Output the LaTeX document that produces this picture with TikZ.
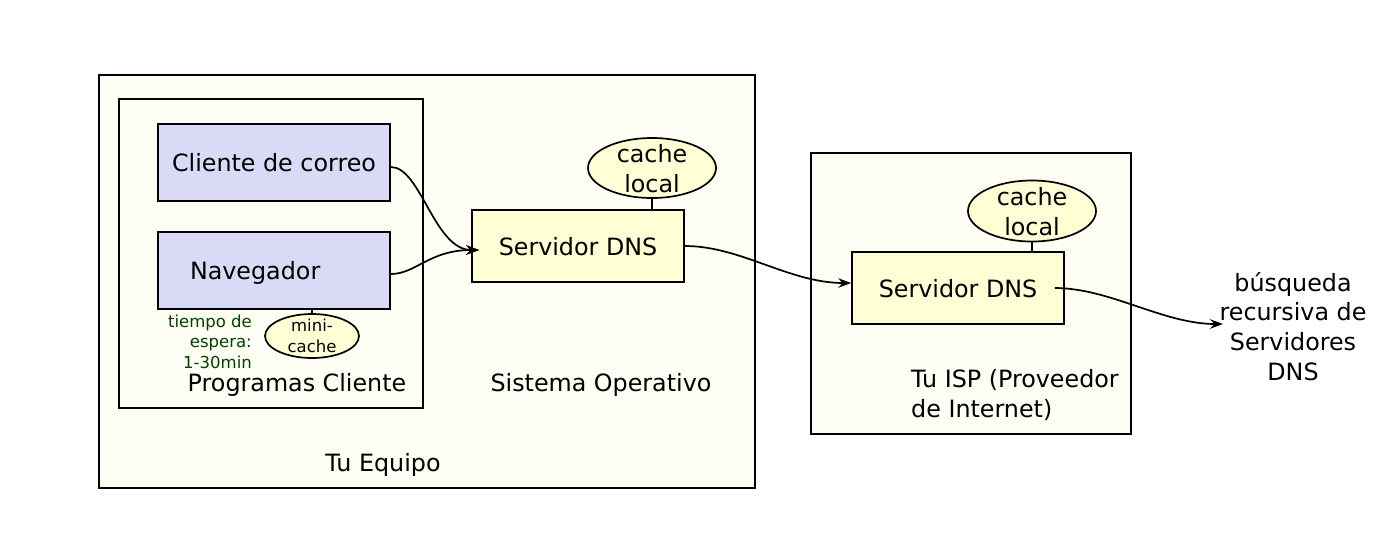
\documentclass[tikz,border=0pt]{standalone}
\usepackage{fontspec}
\setmainfont{DejaVu Sans}
\usetikzlibrary{shapes.geometric,arrows.meta,calc}
\definecolor{framebg}{RGB}{254,254,244}
\definecolor{progbg}{RGB}{218,218,247}
\definecolor{dnsbg}{RGB}{255,255,213}
\definecolor{waitgreen}{RGB}{0,64,0}
\newcommand{\bigfont}{\fontsize{23.8pt}{29.7pt}\selectfont}
\newcommand{\smallfont}{\fontsize{16.5pt}{20.5pt}\selectfont}
\begin{document}
\begin{tikzpicture}[x=1pt,y=-1pt,
  frame/.style={draw=black, fill=framebg, line width=1.7pt, inner sep=0pt, anchor=north west},
  progbox/.style={draw=black, fill=progbg, line width=1.7pt, minimum width=232pt, minimum height=77pt, inner sep=0pt, font=\bigfont, text height=18pt, text depth=0pt},
  dnsbox/.style={draw=black, fill=dnsbg, line width=1.7pt, minimum width=212pt, minimum height=72pt, inner sep=0pt, font=\bigfont, text height=18pt, text depth=0pt},
  cacheell/.style={ellipse, draw=black, fill=dnsbg, line width=1.7pt, inner sep=0pt},
  lbl/.style={font=\bigfont, inner sep=0pt, anchor=base},
  smalllbl/.style={font=\smallfont, inner sep=0pt, anchor=base},
  tie/.style={line width=1.7pt},
  link/.style={line width=1.7pt, -{Stealth[length=13pt,width=9.5pt,inset=4.5pt]}}
]
\useasboundingbox (0,0) rectangle (1376,550);
\fill[white] (0,0) rectangle (1376,550);

% frames
\node[frame, minimum width=656pt, minimum height=413pt] (equipo) at (98,74) {};
\node[frame, minimum width=304pt, minimum height=309pt] (prog) at (118,98) {};
\node[frame, minimum width=320pt, minimum height=281pt] (isp) at (810,152) {};

% client programs
\node[progbox] (mail) at (274,162.5) {Cliente de correo};
\node[progbox, text width=168pt, align=left, inner xsep=32pt] (nav) at (274,270.5) {Navegador};

% DNS servers
\node[dnsbox] (dns1) at (578,246) {Servidor DNS};
\node[dnsbox] (dns2) at (958,288) {Servidor DNS};

% caches
\node[cacheell, minimum width=128pt, minimum height=60pt] (cache1) at (652,168) {};
\node[cacheell, minimum width=128pt, minimum height=61pt] (cache2) at (1032,211) {};
\node[cacheell, minimum width=94pt, minimum height=44pt] (mini) at (312,336) {};
\node[lbl, align=center] (cache1t) at (652,192.5) {cache\\local};
\node[lbl, align=center] (cache2t) at (1032,235.2) {cache\\local};
\node[smalllbl, align=center] (minit) at (312,352) {mini-\\cache};

\draw[tie] (cache1.south) -- (cache1.south |- dns1.north);
\draw[tie] (cache2.south) -- (cache2.south |- dns2.north);
\draw[tie] (nav.south -| mini.north) -- (mini.north);

% labels
\node[smalllbl, align=right, text=waitgreen, anchor=base east] (wait) at (252,368) {tiempo de\\espera:\\1-30min};
\node[lbl] (progt) at (297,391) {Programas Cliente};
\node[lbl] (sot) at (601,391) {Sistema Operativo};
\node[lbl] (equipot) at (383,471) {Tu Equipo};
\node[lbl, align=left, anchor=base west] (ispt) at (911,417) {Tu ISP (Proveedor\\de Internet)};
\node[lbl, align=center] (search) at (1293,380.1) {búsqueda\\recursiva de\\Servidores\\DNS};

% connectors
\coordinate (mailout) at ($(mail.east)+(0,4.5)$);
\coordinate (navout) at ($(nav.east)+(0,3.5)$);
\coordinate (dns1in) at ($(dns1.west)+(8,4)$);
\coordinate (dns2in) at ($(dns2.west)+(0,-5)$);
\coordinate (dns2out) at ($(dns2.east)+(-10,0)$);
\coordinate (searchin) at (1223,324);

\draw[link] (mailout) .. controls +(30,0) and +(-45,0) .. (dns1in);
\draw[link] (navout) .. controls +(25,0) and +(-50,0) .. (dns1in);
\draw[link] (dns1.east) .. controls +(56,0) and +(-62,0) .. (dns2in);
\draw[link] (dns2out) .. controls +(55,0) and +(-60,0) .. (searchin);
\end{tikzpicture}
\end{document}
